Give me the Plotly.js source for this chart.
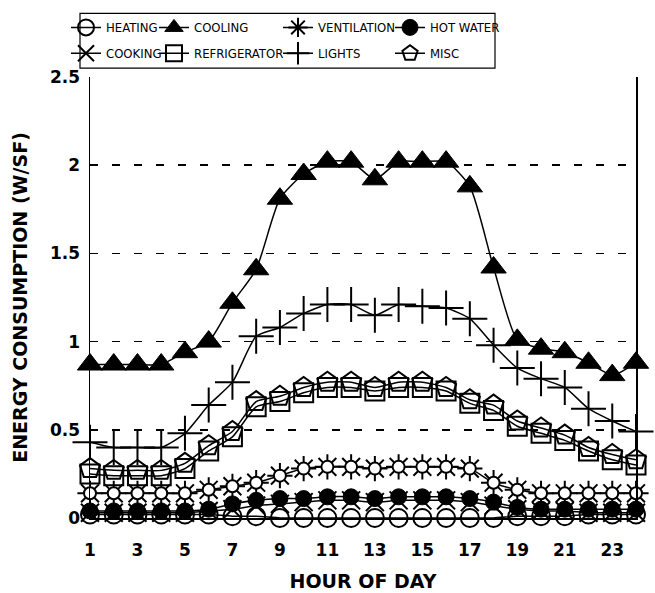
<!DOCTYPE html>
<html><head><meta charset="utf-8">
<script src="https://cdn.plot.ly/plotly-3.0.1.min.js"></script>
<style>html,body{margin:0;padding:0;background:#fff}#chart{width:655px;height:593px}</style>
</head><body><div id="chart"></div>
<script>
const hours = [1,2,3,4,5,6,7,8,9,10,11,12,13,14,15,16,17,18,19,20,21,22,23,24];
const xTickVals = [1,3,5,7,9,11,13,15,17,19,21,23];
const yTickVals = [0,0.5,1,1.5,2,2.5];
const yGridVals = [0.5,1,1.5,2];

const heating      = [0.02,0.02,0.02,0.02,0.02,0.02,0.01,0.01,0.00,0.00,0.00,0.00,0.00,0.00,0.00,0.00,0.00,0.00,0.01,0.01,0.01,0.02,0.02,0.02];
const cooling      = [0.87,0.87,0.87,0.87,0.94,1.00,1.22,1.41,1.81,1.95,2.02,2.02,1.92,2.02,2.02,2.02,1.88,1.42,1.01,0.96,0.94,0.88,0.81,0.88];
const ventilation  = [0.14,0.14,0.14,0.14,0.14,0.16,0.18,0.20,0.24,0.28,0.29,0.29,0.28,0.29,0.29,0.29,0.28,0.20,0.16,0.14,0.14,0.14,0.14,0.14];
const hotWater     = [0.04,0.04,0.04,0.04,0.04,0.05,0.08,0.10,0.11,0.11,0.12,0.12,0.11,0.12,0.12,0.12,0.11,0.09,0.06,0.05,0.05,0.05,0.05,0.05];
const cooking      = [0.03,0.03,0.03,0.03,0.03,0.04,0.05,0.07,0.08,0.09,0.10,0.10,0.09,0.10,0.10,0.10,0.09,0.07,0.05,0.04,0.04,0.03,0.03,0.03];
const refrigerator = [0.25,0.24,0.24,0.24,0.28,0.38,0.46,0.63,0.66,0.71,0.74,0.74,0.72,0.74,0.74,0.72,0.65,0.61,0.52,0.48,0.44,0.38,0.33,0.30];
const lights       = [0.43,0.40,0.40,0.40,0.48,0.64,0.77,1.03,1.08,1.16,1.21,1.21,1.15,1.21,1.20,1.19,1.13,0.98,0.85,0.79,0.74,0.62,0.55,0.49];
const misc         = [0.28,0.27,0.27,0.27,0.31,0.41,0.49,0.66,0.69,0.74,0.77,0.77,0.74,0.77,0.77,0.74,0.67,0.64,0.55,0.51,0.47,0.40,0.36,0.33];

const names = ['HEATING','COOLING','VENTILATION','HOT WATER','COOKING','REFRIGERATOR','LIGHTS','MISC'];

const LINE = {color:'black', width:1.5, shape:'spline', smoothing:0.6};
function tr(name, y, marker, legend, rank, extra) {
  return Object.assign({
    type:'scatter', mode:'lines+markers', name:name, x:hours, y:y,
    cliponaxis:false, line:LINE, marker:marker, legend:legend, legendgroup:name, legendrank:rank
  }, extra || {});
}
const ML = {color:'black', width:2};
const data = [
  tr(names[0], heating, {symbol:'circle-open', size:18, color:'black', line:ML}, 'legend', 1),
  tr(names[4], cooking, {symbol:'x-thin-open', size:18, color:'black', line:ML}, 'legend', 2),
  tr(names[3], hotWater, {symbol:'circle', size:16, color:'black', line:{color:'black', width:1}}, 'legend4', 1),
  tr(names[2], ventilation, {symbol:'asterisk-open', size:21, color:'black', line:{color:'black', width:2}}, 'legend3', 1),
  tr(names[2], ventilation, {symbol:'circle', size:12, color:'white', line:{color:'black', width:2}}, 'legend3', 1, {mode:'markers', showlegend:false}),
  tr(names[5], refrigerator, {symbol:'square-open', size:19, color:'black', line:ML}, 'legend2', 2),
  tr(names[7], misc, {symbol:'pentagon-open', size:21, color:'black', line:ML}, 'legend4', 2),
  tr(names[6], lights, {symbol:'cross-thin-open', size:25, color:'black', line:ML}, 'legend3', 2),
  tr(names[1], cooling, {symbol:'triangle-up', size:22, color:'black', line:{color:'black', width:1}}, 'legend2', 1, {yaxis:'y2'})
];

const LFONT = {family:'"Liberation Sans Narrow", "DejaVu Sans Condensed", "Liberation Sans", sans-serif', size:13, color:'black'};
function leg(px) {
  return {x:(px-90)/546, xanchor:'left', y:(518-9)/444, yanchor:'top', orientation:'v',
    bgcolor:'rgba(0,0,0,0)', borderwidth:0, font:LFONT, tracegroupgap:6, itemwidth:30, traceorder:'grouped'};
}
const AFONT = {family:'"DejaVu Sans", sans-serif', size:17, color:'black', weight:'bold'};

const layout = {
  width:655, height:593,
  margin:{l:90, r:19, t:74, b:75},
  paper_bgcolor:'white', plot_bgcolor:'white',
  showlegend:true,
  legend:leg(66), legend2:leg(154), legend3:leg(278), legend4:leg(390),
  xaxis:{range:[1,24], tickvals:xTickVals, ticktext:xTickVals.map(String), showgrid:false, zeroline:false,
    showline:true, linecolor:'black', linewidth:1.5, ticks:'', tickfont:AFONT, ticklabelstandoff:16,
    title:{text:'HOUR OF DAY', font:Object.assign({}, AFONT, {size:19}), standoff:16}},
  yaxis:{range:[0,2.5], tickvals:yTickVals, ticktext:yTickVals.map(String), showgrid:false, zeroline:false,
    showline:true, mirror:true, linecolor:'black', linewidth:1.5, ticks:'', tickfont:AFONT, ticklabelstandoff:5,
    title:{text:'ENERGY CONSUMPTION (W/SF)', font:Object.assign({}, AFONT, {size:19}), standoff:17}},
  yaxis2:{range:[0,2.5], overlaying:'y', anchor:'x', side:'left', tickvals:yGridVals, showticklabels:false,
    showgrid:true, gridcolor:'black', gridwidth:1.5, griddash:'8px,14px', zeroline:false, showline:false, ticks:''},
  shapes:[{type:'rect', xref:'paper', yref:'paper', x0:(80-90)/546, x1:(495-90)/546, y0:(518-65)/444, y1:(518-10)/444,
    line:{color:'black', width:1.2}, fillcolor:'rgba(0,0,0,0)', layer:'above'}]
};

Plotly.newPlot('chart', data, layout, {displayModeBar:false, staticPlot:true});
</script></body></html>
